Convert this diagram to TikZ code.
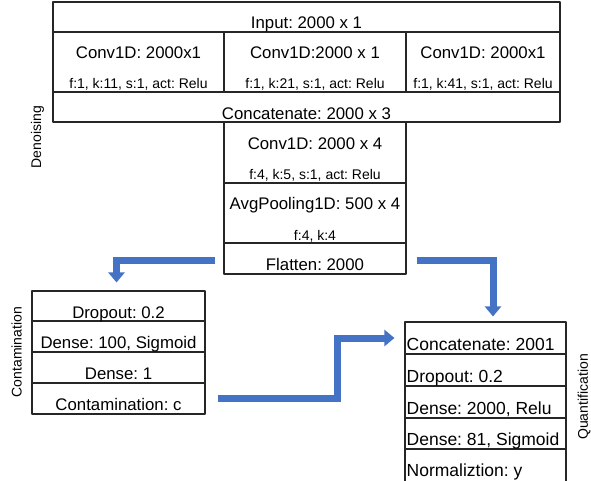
\documentclass[tikz,border=0pt]{standalone}
\usepackage{fontspec}
\setmainfont{Liberation Sans}
\frenchspacing
\usetikzlibrary{arrows.meta}
\definecolor{flowblue}{HTML}{4472C4}
\begin{document}
\begin{tikzpicture}[x=1pt, y=-1pt, line join=round,
	cell/.style={draw=black!85, line width=1.1pt, inner sep=0pt},
	big/.style={font=\fontsize{16.8}{20}\selectfont, inner sep=0pt, anchor=base},
	small/.style={font=\fontsize{14}{17}\selectfont, inner sep=0pt, anchor=base},
	quant/.style={font=\fontsize{17.5}{21}\selectfont, inner sep=0pt, anchor=base west},
	side/.style={font=\fontsize{14}{17}\selectfont, inner sep=0pt, rotate=90},
	flow/.style={draw=flowblue, line width=7pt, line join=miter, -{Triangle[width=16pt,length=10pt]}}]
	\useasboundingbox (0,0) rectangle (591,481);
	% denoising
	\node[cell, minimum width=507pt, minimum height=30pt] (inp) at (306.5,17) {};
	\node[cell, minimum width=171pt, minimum height=60pt] (ca) at (138.5,62) {};
	\node[cell, minimum width=182pt, minimum height=60pt] (cb) at (315,62) {};
	\node[cell, minimum width=154pt, minimum height=60pt] (cc) at (483,62) {};
	\node[cell, minimum width=507pt, minimum height=30pt] (cat) at (306.5,107) {};
	\node[cell, minimum width=182pt, minimum height=61pt] (conv) at (315,152.5) {};
	\node[cell, minimum width=182pt, minimum height=60pt] (pool) at (315,213) {};
	\node[cell, minimum width=182pt, minimum height=31pt] (flat) at (315,258.5) {};
	\node[big] (inp-t) at ([yshift=4.5pt]inp.south) {Input: 2000 x 1};
	\node[big] (ca-t) at ([yshift=34pt]ca.south) {Conv1D: 2000x1};
	\node[small] (ca-p) at ([yshift=4pt]ca.south) {f:1, k:11, s:1, act: Relu};
	\node[big] (cb-t) at ([yshift=34pt]cb.south) {Conv1D:2000 x 1};
	\node[small] (cb-p) at ([yshift=4pt]cb.south) {f:1, k:21, s:1, act: Relu};
	\node[big] (cc-t) at ([yshift=34pt]cc.south) {Conv1D: 2000x1};
	\node[small] (cc-p) at ([yshift=4pt]cc.south) {f:1, k:41, s:1, act: Relu};
	\node[big] (cat-t) at ([yshift=3.5pt]cat.south) {Concatenate: 2000 x 3};
	\node[big] (conv-t) at ([yshift=34pt]conv.south) {Conv1D: 2000 x 4};
	\node[small] (conv-p) at ([yshift=4pt]conv.south) {f:4, k:5, s:1, act: Relu};
	\node[big] (pool-t) at ([yshift=34pt]pool.south) {AvgPooling1D: 500 x 4};
	\node[small] (pool-p) at ([yshift=3.5pt]pool.south) {f:4, k:4};
	\node[big] (flat-t) at ([yshift=4pt]flat.south) {Flatten: 2000};
	\node[side] (den) at (37.5,137) {Denoising};
	% contamination
	\node[cell, minimum width=173pt, minimum height=30pt] (drop) at (118.5,306) {};
	\node[cell, minimum width=173pt, minimum height=31pt] (d100) at (118.5,336.5) {};
	\node[cell, minimum width=173pt, minimum height=31pt] (d1) at (118.5,367.5) {};
	\node[cell, minimum width=173pt, minimum height=31pt] (cres) at (118.5,398.5) {};
	\node[big] (drop-t) at ([yshift=3.5pt]drop.south) {Dropout: 0.2};
	\node[big] (d100-t) at ([yshift=4.5pt]d100.south) {Dense: 100, Sigmoid};
	\node[big] (d1-t) at ([yshift=4pt]d1.south) {Dense: 1};
	\node[big] (cres-t) at ([yshift=4.5pt]cres.south) {Contamination: c};
	\node[side] (con) at (16.5,352) {Contamination};
	% quantification
	\node[cell, minimum width=161pt, minimum height=32pt] (qcat) at (485.5,338) {};
	\node[cell, minimum width=161pt, minimum height=32pt] (qdrop) at (485.5,370) {};
	\node[cell, minimum width=161pt, minimum height=32pt] (qd2000) at (485.5,402) {};
	\node[cell, minimum width=161pt, minimum height=31pt] (qd81) at (485.5,433.5) {};
	\node[cell, minimum width=161pt, minimum height=35pt] (qnorm) at (485.5,466.5) {};
	\node[quant] (qcat-t) at ([xshift=2pt,yshift=4.5pt]qcat.south west) {Concatenate: 2001};
	\node[quant] (qdrop-t) at ([xshift=2pt,yshift=4pt]qdrop.south west) {Dropout: 0.2};
	\node[quant] (qd2000-t) at ([xshift=2pt,yshift=4pt]qd2000.south west) {Dense: 2000, Relu};
	\node[quant] (qd81-t) at ([xshift=2pt,yshift=4pt]qd81.south west) {Dense: 81, Sigmoid};
	\node[quant] (qnorm-t) at ([xshift=2pt,yshift=8pt]qnorm.south west) {Normaliztion: y};
	\node[side] (qua) at (584,397) {Quantification};
	% arrows
	\draw[flow, shorten >=8pt] ([xshift=-8pt,yshift=-2pt]flat.west) -| ([xshift=-2pt]drop.north);
	\draw[flow, shorten >=5pt] ([xshift=10pt,yshift=-2pt]flat.east) -| ([xshift=7.5pt]qcat.north);
	\draw[flow, shorten >=10pt] ([xshift=12pt]cres.east) -| ([xshift=-66.5pt]qcat.west) -- (qcat.west);
\end{tikzpicture}
\end{document}
